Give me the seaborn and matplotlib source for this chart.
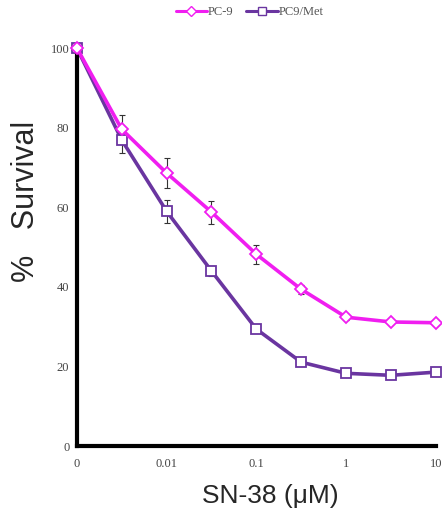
import numpy as np
import pandas as pd
import matplotlib
matplotlib.use("Agg")
import matplotlib.pyplot as plt
import seaborn as sns
from matplotlib.lines import Line2D

doses = ["0", "0.003", "0.01", "0.03", "0.1", "0.3", "1", "3", "10"]
pc9 = [100, 79.6, 68.6, 58.8, 48.2, 39.4, 32.4, 31.2, 31.0]
pc9_err = [0, 3.6, 3.8, 2.9, 2.4, 1.2, 0.8, 0.6, 0.6]
met = [100, 76.9, 59.0, 44.0, 29.4, 21.1, 18.3, 17.8, 18.6]
met_err = [0, 3.3, 2.9, 1.2, 0.8, 0.6, 0.5, 0.5, 0.5]
xtick_labels = ["0", "0.01", "0.1", "1", "10"]
ytick_vals = [0, 20, 40, 60, 80, 100]

c_pc9 = "#F01EF0"
c_met = "#6A35A0"

pos = np.arange(len(doses))
df_pc9 = pd.DataFrame({"pos": pos, "survival": pc9})
df_met = pd.DataFrame({"pos": pos, "survival": met})

sns.set_style("white")
fig = plt.figure(figsize=(4.42, 5.17), dpi=100)
ax = fig.add_axes([0.174, 0.137, 0.812, 0.770])

ax.errorbar(pos, met, yerr=met_err, fmt="none", ecolor="#333333",
            elinewidth=0.8, capsize=2.5, capthick=0.8, zorder=2, clip_on=False)
ax.errorbar(pos, pc9, yerr=pc9_err, fmt="none", ecolor="#333333",
            elinewidth=0.8, capsize=2.5, capthick=0.8, zorder=2, clip_on=False)

sns.lineplot(data=df_pc9, x="pos", y="survival", color=c_pc9, marker="D",
             linewidth=2.6, markersize=6.5, markerfacecolor="white",
             markeredgecolor=c_pc9, markeredgewidth=1.3, ax=ax, zorder=3, clip_on=False)
sns.lineplot(data=df_met, x="pos", y="survival", color=c_met, marker="s",
             linewidth=2.6, markersize=7.5, markerfacecolor="white",
             markeredgecolor=c_met, markeredgewidth=1.3, ax=ax, zorder=2.5, clip_on=False)
for ln in ax.lines:
    ln.set_clip_on(False)

ax.set_xlim(0, len(doses) - 1)
ax.set_ylim(0, 100)
ax.set_xticks([0, 2, 4, 6, 8])
ax.set_xticklabels(xtick_labels)
ax.set_yticks(ytick_vals)
ax.set_yticklabels([str(v) for v in ytick_vals])
for lab in ax.get_xticklabels() + ax.get_yticklabels():
    lab.set_fontfamily("Liberation Serif")
    lab.set_fontsize(9)
    lab.set_color("#444444")
ax.tick_params(axis="both", length=2.5, width=2, color="black", direction="out", pad=3)
ax.tick_params(axis="x", pad=6)

for s in ["top", "right"]:
    ax.spines[s].set_visible(False)
for s in ["left", "bottom"]:
    ax.spines[s].set_linewidth(3)
    ax.spines[s].set_color("black")

ax.set_xlabel("SN-38 (μM)", fontfamily="Liberation Sans", fontsize=19)
ax.xaxis.set_label_coords(0.54, -0.095)
ax.set_ylabel("%   Survival", fontfamily="Liberation Sans", fontsize=22)
ax.yaxis.set_label_coords(-0.10, 0.615)
ax.set_facecolor("white")

handles = [
    Line2D([0], [0], color=c_pc9, lw=2.2, marker="D", markersize=5,
           markerfacecolor="white", markeredgecolor=c_pc9, markeredgewidth=1),
    Line2D([0], [0], color=c_met, lw=2.2, marker="s", markersize=5.5,
           markerfacecolor="white", markeredgecolor=c_met, markeredgewidth=1),
]
leg = fig.legend(handles, ["PC-9", "PC9/Met"], loc="center", bbox_to_anchor=(0.565, 0.976),
                 ncol=2, frameon=False, handlelength=2.5, handletextpad=0.1,
                 columnspacing=1.0, prop={"family": "Liberation Serif", "size": 9})
for t in leg.get_texts():
    t.set_color("#555555")

fig.savefig("out.png", dpi=100, facecolor="white")
